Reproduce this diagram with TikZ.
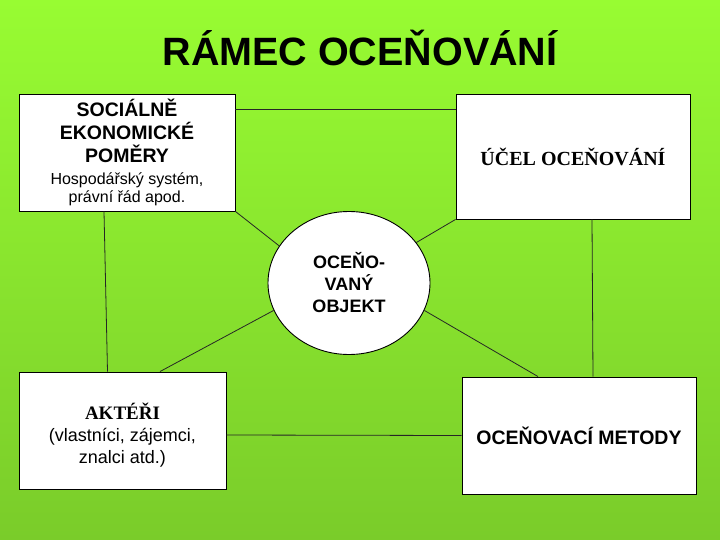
\documentclass[tikz,border=0pt]{standalone}
\usepackage{fontspec}
\setmainfont{Liberation Serif}
\setsansfont{Liberation Sans}
\usepackage{tikz}
\usetikzlibrary{shapes.geometric}

\definecolor{bgtop}{RGB}{152,252,50}
\definecolor{bgbottom}{RGB}{122,204,42}

% pisma
\newcommand{\headsf}{\sffamily\bfseries\fontsize{19.5}{23}\selectfont}
\newcommand{\notesf}{\sffamily\mdseries\fontsize{16}{19}\selectfont}
\newcommand{\plainsf}{\sffamily\mdseries\fontsize{18}{22}\selectfont}
\newcommand{\headrm}{\rmfamily\bfseries\fontsize{19}{22}\selectfont}

\begin{document}
\begin{tikzpicture}[x=1pt,y=-1pt,
        box/.style={draw=black,fill=white,line width=0.9pt,inner sep=0pt,align=center},
        objekt/.style={draw=black,fill=white,line width=0.9pt,ellipse,inner sep=0pt,
            minimum width=162pt,minimum height=143pt,align=center},
        link/.style={line width=0.8pt,draw=black!85}]

        % pozadi
        \shade[top color=bgtop,bottom color=bgbottom] (0,0) rectangle (720,540);
        \useasboundingbox (0,0) rectangle (720,540);

        \node[font=\sffamily\bfseries\fontsize{39.5}{44}\selectfont] (title) at (360,48) {RÁMEC OCEŇOVÁNÍ};

        \node[box,minimum width=216pt,minimum height=117pt,font=\fontsize{19.5}{23}\selectfont] (pomery) at (127,152.5)
            {\headsf SOCIÁLNĚ\\\headsf EKONOMICKÉ\\\headsf POMĚRY\\[-1pt]
             \notesf Hospodářský systém,\\[-5pt]\notesf právní řád apod.};
        \node[box,minimum width=234pt,minimum height=125pt,font=\rmfamily\bfseries\fontsize{20}{23}\selectfont] (ucel) at (573,156.5)
            {ÚČEL OCEŇOVÁNÍ};
        \node[objekt,font=\sffamily\bfseries\fontsize{18}{22}\selectfont] (obj) at (349,283)
            {OCEŇO-\\VANÝ\\OBJEKT};
        \node[box,minimum width=207pt,minimum height=117pt,font=\fontsize{18}{22}\selectfont] (akteri) at (122.5,430.5)
            {\headrm\rule{0pt}{26pt}AKTÉŘI\\\plainsf (vlastníci, zájemci,\\\plainsf znalci atd.)};
        \node[box,minimum width=234pt,minimum height=117pt,font=\sffamily\bfseries\fontsize{19.5}{22}\selectfont] (metody) at (579,435.5)
            {OCEŇOVACÍ METODY};

        % spojnice
        \draw[link] ([yshift=-16pt]pomery.north east) -- ([yshift=-16pt]ucel.north west);
        \draw[link] ([xshift=-23pt]pomery.south) -- ([xshift=-15pt]akteri.north);
        \draw[link] ([xshift=19pt]ucel.south) -- ([xshift=14pt]metody.north);
        \draw[link] ([yshift=-4.5pt]akteri.east) -- (metody.west);
        \draw[link] (pomery.south east) -- (obj.152);
        \draw[link] (ucel.south west) -- (obj.31);
        \draw[link] ([xshift=37.5pt]akteri.north) -- (obj.200);
        \draw[link] ([xshift=-41pt]metody.north) -- (obj.340);
\end{tikzpicture}
\end{document}
